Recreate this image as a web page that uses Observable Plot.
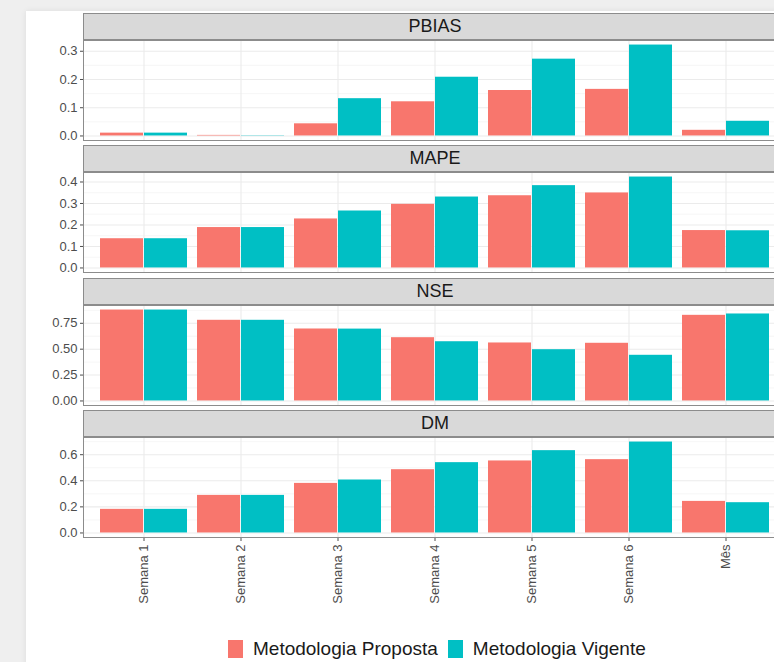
<!DOCTYPE html>
<html>
<head>
<meta charset="utf-8">
<script src="https://cdn.jsdelivr.net/npm/d3@7"></script>
<script src="https://cdn.jsdelivr.net/npm/@observablehq/plot@0.6"></script>
<style>
  html, body { margin: 0; padding: 0; width: 774px; height: 662px; overflow: hidden; background: #efefef; }
  #card { position: absolute; left: 26px; top: 11px; width: 800px; height: 700px; background: #fff; box-shadow: 0 0 6px rgba(0,0,0,0.08); }
  #chart { position: absolute; left: 0; top: 0; width: 800px; height: 662px; font-family: "Liberation Sans", Arial, sans-serif; }
  .strip { position: absolute; box-sizing: border-box; background: #d9d9d9; border: 1px solid #8c8c8c; color: #1a1a1a; font-size: 18px; text-align: center; line-height: 25px; }
  .panel { position: absolute; }
  #legend { position: absolute; top: 638px; left: 228px; display: flex; align-items: center; height: 22px; font-size: 19px; line-height: 22px; color: #1a1a1a; white-space: nowrap; }
  .sw { width: 15px; height: 18px; display: inline-block; }
</style>
</head>
<body>
<div id="card"></div>
<div id="chart"></div>
<script>
// ---- data ----
const categories = ["Semana 1", "Semana 2", "Semana 3", "Semana 4", "Semana 5", "Semana 6", "Mês"];
const metrics = ["PBIAS", "MAPE", "NSE", "DM"];
const series = ["Metodologia Proposta", "Metodologia Vigente"];
const seriesColors = ["#F8766D", "#00BFC4"];

const pbiasProposta = [0.010, 0.002, 0.043, 0.121, 0.161, 0.165, 0.020];
const pbiasVigente  = [0.010, 0.001, 0.132, 0.208, 0.272, 0.322, 0.052];
const mapeProposta  = [0.136, 0.188, 0.228, 0.296, 0.336, 0.349, 0.174];
const mapeVigente   = [0.136, 0.188, 0.265, 0.330, 0.383, 0.423, 0.173];
const nseProposta   = [0.878, 0.779, 0.695, 0.611, 0.560, 0.557, 0.827];
const nseVigente    = [0.878, 0.779, 0.694, 0.572, 0.495, 0.441, 0.840];
const dmProposta    = [0.181, 0.288, 0.380, 0.485, 0.552, 0.562, 0.242];
const dmVigente     = [0.181, 0.288, 0.406, 0.539, 0.631, 0.697, 0.232];

const pbiasTicks = [0, 0.1, 0.2, 0.3];
const pbiasTickLabels = ["0.0", "0.1", "0.2", "0.3"];
const mapeTicks = [0, 0.1, 0.2, 0.3, 0.4];
const mapeTickLabels = ["0.0", "0.1", "0.2", "0.3", "0.4"];
const nseTicks = [0, 0.25, 0.5, 0.75];
const nseTickLabels = ["0.00", "0.25", "0.50", "0.75"];
const dmTicks = [0, 0.2, 0.4, 0.6];
const dmTickLabels = ["0.0", "0.2", "0.4", "0.6"];

const panels = [
  {name: metrics[0], p: pbiasProposta, v: pbiasVigente, ticks: pbiasTicks, labels: pbiasTickLabels},
  {name: metrics[1], p: mapeProposta, v: mapeVigente, ticks: mapeTicks, labels: mapeTickLabels},
  {name: metrics[2], p: nseProposta, v: nseVigente, ticks: nseTicks, labels: nseTickLabels},
  {name: metrics[3], p: dmProposta, v: dmVigente, ticks: dmTicks, labels: dmTickLabels}
];

// ---- layout ----
const W = 790, ML = 83, MR = 3;
const plotH = 100, stripH = 27, firstTop = 13, period = 132.3;
const step = (W - ML - MR) / 7.2;
const bw = step * 0.9;
const chart = document.getElementById("chart");

panels.forEach((pan, i) => {
  const top = firstTop + i * period;
  const strip = document.createElement("div");
  strip.className = "strip";
  strip.style.left = ML + "px";
  strip.style.top = top + "px";
  strip.style.width = (W - ML - MR) + "px";
  strip.style.height = stripH + "px";
  strip.textContent = pan.name;
  chart.appendChild(strip);

  const rowsP = categories.map((c, j) => ({cat: c, value: pan.p[j], series: series[0]}));
  const rowsV = categories.map((c, j) => ({cat: c, value: pan.v[j], series: series[1]}));
  const all = pan.p.concat(pan.v);
  const lo = Math.min(0, d3.min(all)), hi = Math.max(0, d3.max(all));
  const pad = (hi - lo) * 0.05;
  const domain = [lo - pad, hi + pad];
  const tstep = pan.ticks[1] - pan.ticks[0];
  const minor = [pan.ticks[0] - tstep / 2].concat(pan.ticks.map(t => t + tstep / 2))
    .filter(t => t > domain[0] && t < domain[1]);
  const last = i === panels.length - 1;

  const svg = Plot.plot({
    width: W,
    height: plotH + (last ? 90 : 0),
    marginLeft: ML, marginRight: MR, marginTop: 0, marginBottom: last ? 90 : 0,
    style: {fontFamily: "'Liberation Sans', Arial, sans-serif", fontSize: "13px", color: "#4d4d4d", background: "transparent", overflow: "visible"},
    x: {domain: categories, paddingInner: 0.1, paddingOuter: 0.15, axis: last ? "bottom" : null,
        tickRotate: -90, tickSize: 4, tickPadding: 3, label: null},
    y: {domain, ticks: pan.ticks, tickFormat: d => pan.labels[pan.ticks.indexOf(d)], tickSize: 3, tickPadding: 3, label: null},
    marks: [
      Plot.gridY(minor, {stroke: "#f2f2f2", strokeOpacity: 1, strokeWidth: 0.7}),
      Plot.gridY(pan.ticks, {stroke: "#ebebeb", strokeOpacity: 1, strokeWidth: 1.1}),
      Plot.gridX(categories, {stroke: "#ebebeb", strokeOpacity: 1, strokeWidth: 1.1}),
      Plot.barY(rowsP, {x: "cat", y: "value", fill: seriesColors[0], insetRight: bw / 2}),
      Plot.barY(rowsV, {x: "cat", y: "value", fill: seriesColors[1], insetLeft: bw / 2}),
      Plot.frame({stroke: "#8c8c8c", strokeWidth: 1})
    ]
  });
  svg.classList.add("panel");
  svg.style.left = "0px";
  svg.style.top = (top + stripH) + "px";
  chart.appendChild(svg);
});

// ---- legend ----
const legend = document.createElement("div");
legend.id = "legend";
series.forEach((s, k) => {
  const sw = document.createElement("span");
  sw.className = "sw";
  sw.style.background = seriesColors[k];
  sw.style.marginLeft = k === 0 ? "0px" : "10px";
  const tx = document.createElement("span");
  tx.textContent = s;
  tx.style.marginLeft = "10px";
  legend.appendChild(sw);
  legend.appendChild(tx);
});
chart.appendChild(legend);
</script>
</body>
</html>
